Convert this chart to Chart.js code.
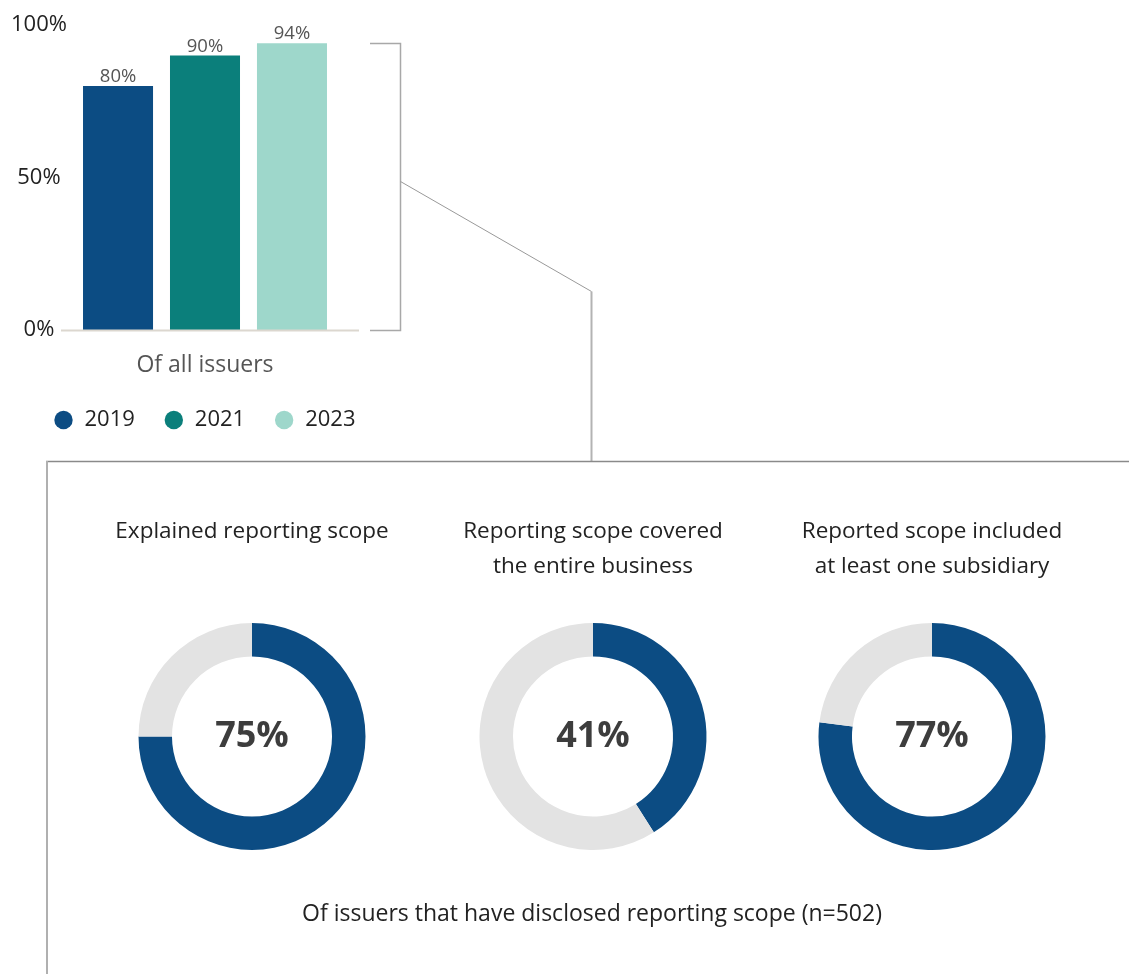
<!DOCTYPE html>
<html>
<head>
<meta charset="utf-8">
<script src="https://cdn.jsdelivr.net/npm/chart.js@4"></script>
<style>
body { margin: 0; background: #fff; }
#wrap { position: relative; width: 1129px; height: 974px; overflow: hidden; font-family: 'Open Sans', sans-serif; }
canvas { position: absolute; }
#caption { position: absolute; left: 242px; width: 700px; top: 896px; line-height: 32px; text-align: center; font-size: 23px; color: #222; }
</style>
</head>
<body>
<div id="wrap">
  <canvas id="barChart" width="1129" height="974" style="left:0;top:0"></canvas>
  <canvas id="donut0" width="340" height="350" style="left:82px;top:500px"></canvas>
  <canvas id="donut1" width="340" height="350" style="left:423px;top:500px"></canvas>
  <canvas id="donut2" width="340" height="350" style="left:762px;top:500px"></canvas>
  <div id="caption"></div>
</div>
<script>
//bar chart data
const barCategories = ['Of all issuers'];
const barYears = ['2019', '2021', '2023'];
const barValues = [80, 90, 94];
const barColors = ['#0c4c83', '#0b7f7b', '#9ed7cb'];
const yTicks = [0, 50, 100];

//doughnut data: share that did it, and the rest
const donutTitles = [
    ['Explained reporting scope', ''],
    ['Reporting scope covered', 'the entire business'],
    ['Reported scope included', 'at least one subsidiary'],
];
const donutValues = [75, 41, 77];
const donutRest = [25, 59, 23];
const donutColors = ['#0c4c83', '#e3e3e3'];
const captionText = 'Of issuers that have disclosed reporting scope (n=502)';

Chart.defaults.font.family = "'Open Sans', sans-serif";
Chart.defaults.color = '#222';

document.getElementById('caption').innerText = captionText;

//value labels on top of the bars
const barLabels = {
    id: 'barLabels',
    afterDatasetsDraw(chart) {
        const ctx = chart.ctx;
        ctx.save();
        ctx.font = "18.5px 'Open Sans'";
        ctx.fillStyle = '#555';
        ctx.textAlign = 'center';
        ctx.textBaseline = 'alphabetic';
        chart.data.datasets.forEach((ds, i) => {
            const bar = chart.getDatasetMeta(i).data[0];
            ctx.fillText(ds.data[0] + '%', bar.x, bar.y - 4);
        });
        ctx.restore();
    },
};

//baseline, bracket and the line that leads down to the doughnut box
const connectors = {
    id: 'connectors',
    afterDraw(chart) {
        const ctx = chart.ctx;
        const yScale = chart.scales.y;
        const top = Math.round(yScale.getPixelForValue(Math.max(...barValues))) + 0.5;
        const bottom = Math.round(yScale.getPixelForValue(0)) + 0.5;
        ctx.save();

        ctx.strokeStyle = '#dcd7cf';
        ctx.lineWidth = 2;
        ctx.beginPath();
        ctx.moveTo(chart.chartArea.left, bottom);
        ctx.lineTo(chart.chartArea.right + 10, bottom);
        ctx.stroke();

        ctx.strokeStyle = '#a8a8a8';
        ctx.lineWidth = 1.5;
        ctx.beginPath();
        ctx.moveTo(370, top);
        ctx.lineTo(400.5, top);
        ctx.lineTo(400.5, bottom);
        ctx.lineTo(370, bottom);
        ctx.stroke();

        ctx.strokeStyle = '#999';
        ctx.lineWidth = 1;
        ctx.beginPath();
        ctx.moveTo(400.5, 181.5);
        ctx.lineTo(591.5, 291.5);
        ctx.stroke();

        ctx.strokeStyle = '#b3b3b3';
        ctx.lineWidth = 2;
        ctx.beginPath();
        ctx.moveTo(591.5, 291.5);
        ctx.lineTo(591.5, 461);
        ctx.stroke();

        ctx.strokeStyle = '#8a8a8a';
        ctx.lineWidth = 1.5;
        ctx.beginPath();
        ctx.moveTo(1129, 461.5);
        ctx.lineTo(46, 461.5);
        ctx.stroke();

        ctx.strokeStyle = '#b0b0b0';
        ctx.lineWidth = 2;
        ctx.beginPath();
        ctx.moveTo(47, 461);
        ctx.lineTo(47, 974);
        ctx.stroke();

        ctx.restore();
    },
};

new Chart(document.getElementById('barChart'), {
    type: 'bar',
    data: {
        labels: barCategories,
        datasets: barYears.map((year, i) => ({
            label: year,
            data: [barValues[i]],
            backgroundColor: barColors[i],
            barPercentage: 0.805,
            categoryPercentage: 0.906,
        })),
    },
    options: {
        responsive: false,
        animation: false,
        layout: { padding: { left: 0, top: 25, right: 720, bottom: 533 } },
        plugins: {
            tooltip: { enabled: false },
            legend: {
                position: 'bottom',
                labels: {
                    usePointStyle: true,
                    pointStyle: 'circle',
                    boxWidth: 20,
                    boxHeight: 13,
                    padding: 29,
                    color: '#222',
                    font: { size: 22 },
                },
            },
        },
        scales: {
            x: {
                grid: { display: false, drawTicks: false },
                border: { display: false },
                ticks: { padding: 22, color: '#555', font: { size: 23 } },
                afterFit: (s) => { s.height = 50; },
            },
            y: {
                min: 0,
                max: 100,
                grid: { display: false, drawTicks: false },
                border: { display: false },
                afterBuildTicks: (s) => { s.ticks = yTicks.map((v) => ({ value: v })); },
                ticks: {
                    mirror: true,
                    crossAlign: 'center',
                    padding: -50,
                    color: '#222',
                    font: { size: 22 },
                    callback: (v) => v + '%',
                },
                afterFit: (s) => { s.width = 61; },
            },
            y2: {
                position: 'right',
                display: true,
                grid: { display: false },
                border: { display: false },
                ticks: { display: false },
                afterFit: (s) => { s.width = 60; },
            },
        },
    },
    plugins: [barLabels, connectors],
});

//percentage in the middle of each doughnut
const centerText = {
    id: 'centerText',
    afterDraw(chart) {
        const ctx = chart.ctx;
        const arc = chart.getDatasetMeta(0).data[0];
        ctx.save();
        ctx.font = "bold 36px 'Open Sans'";
        ctx.fillStyle = '#3d3d3d';
        ctx.textAlign = 'center';
        ctx.textBaseline = 'alphabetic';
        ctx.fillText(chart.data.datasets[0].data[0] + '%', arc.x, arc.y + 10);
        ctx.restore();
    },
};

donutValues.forEach((value, i) => {
    new Chart(document.getElementById('donut' + i), {
        type: 'doughnut',
        data: {
            labels: ['Yes', 'No'],
            datasets: [{
                data: [value, donutRest[i]],
                backgroundColor: donutColors,
                borderWidth: 0,
            }],
        },
        options: {
            responsive: false,
            animation: false,
            cutout: '70.5%',
            layout: { padding: 0 },
            plugins: {
                tooltip: { enabled: false },
                legend: { display: false },
                title: {
                    display: true,
                    text: donutTitles[i],
                    color: '#222',
                    font: { size: 22.5, weight: 'normal', lineHeight: 35 / 22.5 },
                    padding: { top: 14.5, bottom: 38.5 },
                },
            },
        },
        plugins: [centerText],
    });
});
</script>
</body>
</html>
